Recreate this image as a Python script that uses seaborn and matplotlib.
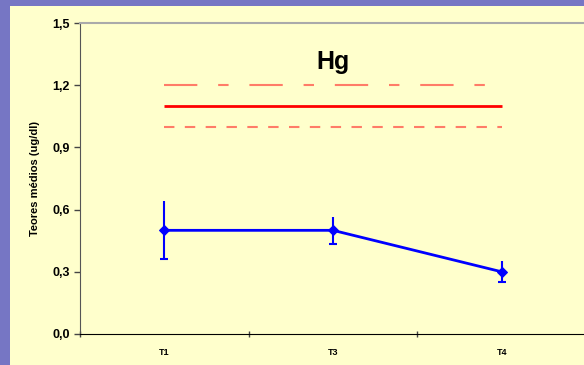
import pandas as pd
import matplotlib.pyplot as plt
import matplotlib.patches as mpatches
from matplotlib.ticker import FuncFormatter, FixedLocator
import seaborn as sns

# data
tempos = ['T1', 'T3', 'T4']
teores = [0.50, 0.50, 0.30]
erro_sup = [0.14, 0.065, 0.05]
erro_inf = [0.14, 0.065, 0.05]
ref_solida = 1.10
ref_traco_ponto = 1.20
ref_tracejada = 1.00

data = pd.DataFrame({'tempo': tempos, 'teor': teores})

sns.set_style('white')
plt.rcParams['font.family'] = ['Liberation Sans', 'DejaVu Sans']
plt.rcParams['text.color'] = 'black'
plt.rcParams['xtick.color'] = 'black'
plt.rcParams['ytick.color'] = 'black'
plt.rcParams['axes.labelcolor'] = 'black'

fig = plt.figure(figsize=(5.84, 3.65), dpi=100, facecolor='#7676C4')
# yellow chart panel
fig.patches.append(mpatches.Rectangle((10 / 584, 0), 1, 1 - 6 / 365,
                                      transform=fig.transFigure,
                                      facecolor='#FFFFCC', edgecolor='none', zorder=-5))
ax = fig.add_axes([80 / 584, 31 / 365, 506 / 584, 311 / 365])
ax.set_facecolor('#FFFFCC')

# reference lines
ax.hlines(ref_traco_ponto, 0, 2, color='#FF7C68', lw=1.5, linestyle=(0, (16, 10, 5, 10)))
ax.hlines(ref_solida, 0, 2, color='#FF0000', lw=2)
ax.hlines(ref_tracejada, 0, 2, color='#FF7C68', lw=1.5, linestyle=(0, (5, 5)))

sns.lineplot(data=data, x='tempo', y='teor', ax=ax, color='#0000FF', lw=2,
             marker='D', markersize=5, markeredgecolor='#0000FF', sort=False)
# upper error (no cap) and lower error (with cap)
xs = range(len(tempos))
ax.errorbar(xs, teores, yerr=[[0] * 3, erro_sup], fmt='none', ecolor='#0000FF', elinewidth=1.5, capsize=0)
ax.errorbar(xs, teores, yerr=[erro_inf, [0] * 3], fmt='none', ecolor='#0000FF', elinewidth=1.5,
            capsize=3, capthick=1.5)

ax.set_xlim(-0.5, 2.5)
ax.set_ylim(0, 1.5)
ax.set_yticks([0, 0.3, 0.6, 0.9, 1.2, 1.5])
ax.yaxis.set_major_formatter(FuncFormatter(lambda v, p: f'{v:.1f}'.replace('.', ',')))
ax.set_xticks(list(xs))
ax.set_xticklabels(tempos, fontsize=6.5, fontweight='bold')
ax.xaxis.set_minor_locator(FixedLocator([-0.5, 0.5, 1.5, 2.5]))
ax.tick_params(axis='x', which='major', length=0, pad=10, bottom=True)
ax.tick_params(axis='x', which='minor', length=5, direction='inout', color='#444444', width=1,
               bottom=True)
ax.tick_params(axis='y', length=4, direction='out', left=True, color='#444444', width=1,
               labelsize=9)
for lab in ax.get_yticklabels():
    lab.set_fontweight('bold')

ax.set_xlabel('')
ax.set_ylabel('Teores médios (ug/dl)', fontsize=8, fontweight='bold', labelpad=9)
ax.text(1, 1.31, 'Hg', ha='center', va='center', fontsize=18, fontweight='bold')

ax.spines['left'].set_color('#555555')
ax.spines['bottom'].set_color('black')
ax.spines['top'].set_color('#AAAAAA')
ax.spines['top'].set_linewidth(1.5)
ax.spines['right'].set_visible(False)

fig.savefig('out.png', dpi=100, facecolor=fig.get_facecolor())
